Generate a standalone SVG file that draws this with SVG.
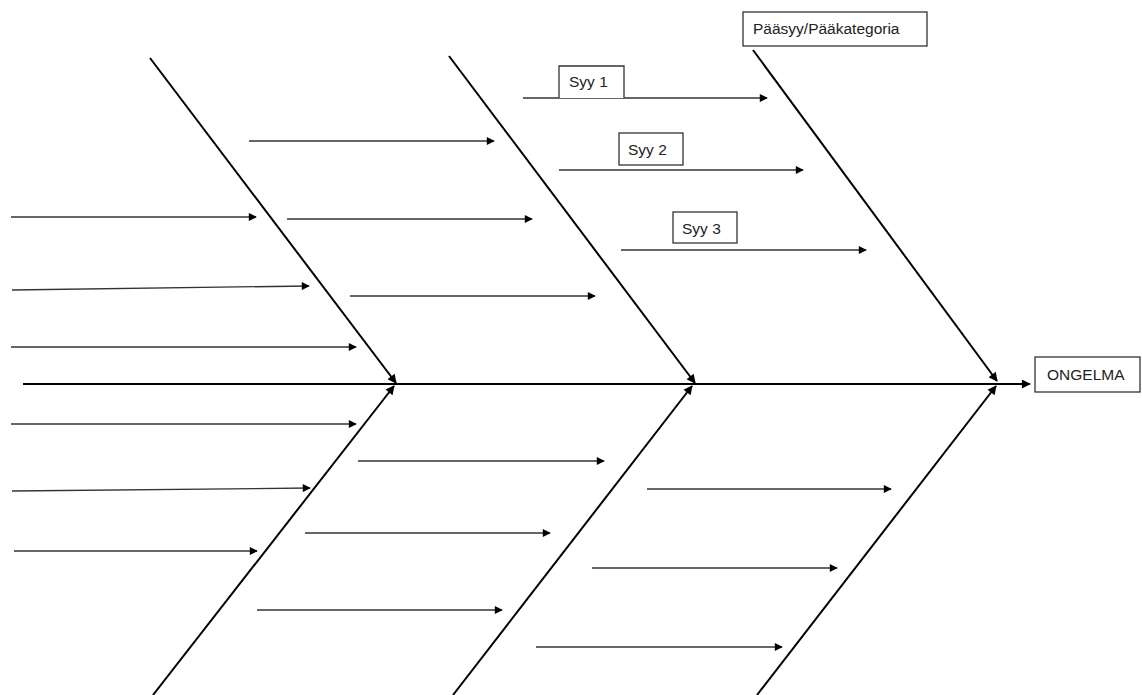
<svg xmlns="http://www.w3.org/2000/svg" width="1142" height="695" viewBox="0 0 1142 695">
  <style>
    .bone { stroke: #000; stroke-width: 2; fill: none; }
    .twig { stroke: #333; stroke-width: 1.3; fill: none; }
    .box { fill: #fff; stroke: #333; stroke-width: 1.3; }
    .lbl { font-family: "Liberation Sans", Arial, sans-serif; font-size: 15.5px; fill: #222; }
  </style>
  <defs>
    <marker id="ah" viewBox="0 0 10 10" refX="9" refY="5" markerWidth="11" markerHeight="8" markerUnits="userSpaceOnUse" orient="auto">
      <path d="M0,0 L10,5 L0,10 z" fill="#000"/>
    </marker>
    <marker id="ahb" viewBox="0 0 10 10" refX="9" refY="5" markerWidth="12" markerHeight="9" markerUnits="userSpaceOnUse" orient="auto">
      <path d="M0,0 L10,5 L0,10 z" fill="#000"/>
    </marker>
  </defs>
  <rect width="1142" height="695" fill="#fff"/>

  <g id="connectors">
    <!-- spine -->
    <line class="bone" x1="23" y1="384" x2="1030" y2="384" marker-end="url(#ahb)"/>
    <!-- main bones, top -->
    <line class="bone" x1="150" y1="58" x2="396" y2="383" marker-end="url(#ahb)"/>
    <line class="bone" x1="449" y1="56" x2="695" y2="383" marker-end="url(#ahb)"/>
    <line class="bone" x1="753" y1="50" x2="997" y2="381" marker-end="url(#ahb)"/>
    <!-- main bones, bottom -->
    <line class="bone" x1="153" y1="695" x2="394" y2="386" marker-end="url(#ahb)"/>
    <line class="bone" x1="453" y1="695" x2="692" y2="386" marker-end="url(#ahb)"/>
    <line class="bone" x1="757" y1="695" x2="996" y2="386" marker-end="url(#ahb)"/>

    <!-- sub-causes, top left -->
    <line class="twig" x1="11" y1="217" x2="256" y2="217" marker-end="url(#ah)"/>
    <line class="twig" x1="12" y1="290" x2="309" y2="286" marker-end="url(#ah)"/>
    <line class="twig" x1="11" y1="347" x2="356" y2="347" marker-end="url(#ah)"/>
    <!-- sub-causes, top middle -->
    <line class="twig" x1="249" y1="141" x2="494" y2="141" marker-end="url(#ah)"/>
    <line class="twig" x1="287" y1="219" x2="532" y2="219" marker-end="url(#ah)"/>
    <line class="twig" x1="350" y1="296" x2="595" y2="296" marker-end="url(#ah)"/>
    <!-- sub-causes, top right -->
    <line class="twig" x1="523" y1="98" x2="767" y2="98" marker-end="url(#ah)"/>
    <line class="twig" x1="559" y1="170" x2="803" y2="170" marker-end="url(#ah)"/>
    <line class="twig" x1="621" y1="250" x2="866" y2="250" marker-end="url(#ah)"/>
    <!-- sub-causes, bottom left -->
    <line class="twig" x1="11" y1="424" x2="356" y2="424" marker-end="url(#ah)"/>
    <line class="twig" x1="12" y1="491" x2="310" y2="488" marker-end="url(#ah)"/>
    <line class="twig" x1="14" y1="551" x2="257" y2="551" marker-end="url(#ah)"/>
    <!-- sub-causes, bottom middle -->
    <line class="twig" x1="358" y1="461" x2="604" y2="461" marker-end="url(#ah)"/>
    <line class="twig" x1="305" y1="533" x2="550" y2="533" marker-end="url(#ah)"/>
    <line class="twig" x1="257" y1="610" x2="502" y2="610" marker-end="url(#ah)"/>
    <!-- sub-causes, bottom right -->
    <line class="twig" x1="647" y1="489" x2="891" y2="489" marker-end="url(#ah)"/>
    <line class="twig" x1="592" y1="568" x2="837" y2="568" marker-end="url(#ah)"/>
    <line class="twig" x1="536" y1="647" x2="782" y2="647" marker-end="url(#ah)"/>
  </g>

  <g id="category">
    <rect class="box" x="743" y="12" width="184" height="34"/>
    <text class="lbl" x="753" y="34">Pääsyy/Pääkategoria</text>
  </g>
  <g id="cause1">
    <path class="box" d="M559,98 V66 H624 V98"/>
    <text class="lbl" x="569" y="87">Syy 1</text>
  </g>
  <g id="cause2">
    <rect class="box" x="619" y="133" width="64" height="32"/>
    <text class="lbl" x="628" y="155">Syy 2</text>
  </g>
  <g id="cause3">
    <rect class="box" x="673" y="212" width="64" height="31"/>
    <text class="lbl" x="682" y="234">Syy 3</text>
  </g>
  <g id="problem">
    <rect class="box" x="1035" y="357" width="105" height="35"/>
    <text class="lbl" x="1047" y="380">ONGELMA</text>
  </g>
</svg>
